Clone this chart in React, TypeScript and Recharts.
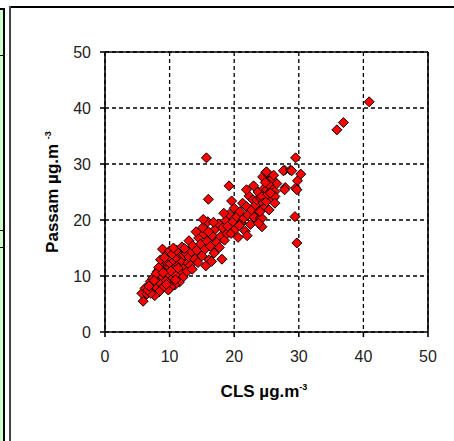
import { ScatterChart, Scatter, XAxis, YAxis, CartesianGrid, ReferenceLine } from 'recharts';

// CLS (x) and Passam (y) readings, paired by index
const cls = [
  5.9, 5.7, 6.2, 6.5, 6.9, 7.2, 7.0, 7.5, 7.8, 7.4, 8.0, 8.2, 8.5, 8.1, 8.7, 8.9, 9.1, 8.8, 9.3, 9.5,
  9.7, 9.4, 9.9, 10.1, 10.3, 10.0, 9.6, 8.9, 10.0, 10.5, 10.7, 10.9, 11.2, 11.0, 11.4, 11.6, 11.8, 12.0, 12.2, 12.4,
  12.6, 12.1, 11.5, 10.8, 10.2, 9.8, 9.0, 8.4, 7.7, 7.1, 6.6, 8.3, 7.9, 8.6, 9.2, 10.4, 11.1, 10.6, 11.9, 12.8,
  13.0, 12.7, 13.2, 13.4, 9.5, 10.9, 12.3, 11.3, 10.2, 9.0, 7.6, 6.8,
  13.0, 13.6, 13.9, 14.2, 14.5, 14.4, 14.8, 15.0, 15.3, 15.1, 15.5, 15.8, 15.9, 16.1, 16.3, 16.5, 16.6, 16.9, 17.1, 17.3,
  17.6, 17.9, 18.1, 18.2, 18.5, 18.7, 14.1, 13.5, 15.6, 16.8, 17.7, 18.9, 15.2, 16.0,
  19.0, 19.2, 19.5, 19.8, 20.0, 20.2, 20.4, 20.6, 20.9, 21.1, 21.3, 21.5, 21.7, 21.9, 22.1, 22.3, 22.5, 22.7, 22.9, 23.1,
  23.3, 23.5, 23.7, 23.9, 24.1, 24.0, 24.3, 24.3, 24.5, 24.6, 24.8, 25.0, 25.0, 25.2, 25.5, 25.7, 26.0, 26.3, 26.3, 26.3,
  26.6, 24.3, 24.0, 23.0, 21.9, 19.2, 16.0, 20.8, 22.0, 18.4, 19.6, 23.8, 25.4,
  24.4, 24.9, 25.0, 25.8, 27.8, 27.6, 28.7, 28.9, 30.3, 29.8, 27.9, 29.5, 29.7, 27.8, 29.4, 29.7, 29.5, 15.7, 35.9, 36.9,
  40.9, 25.3, 26.1, 24.8, 25.6,
];
const passam = [
  5.5, 6.9, 7.8, 6.8, 7.4, 8.3, 9.0, 7.6, 8.8, 9.6, 7.9, 9.3, 10.1, 10.8, 8.6, 9.9, 11.2, 12.0, 10.5, 9.2,
  11.8, 12.6, 10.3, 12.2, 11.0, 13.4, 13.9, 14.8, 14.5, 9.6, 12.7, 11.5, 13.1, 10.2, 12.0, 14.0, 10.9, 12.6, 13.7, 11.6,
  14.0, 9.8, 8.9, 8.4, 8.0, 7.5, 8.0, 7.2, 6.5, 6.9, 7.5, 11.5, 10.4, 12.9, 13.3, 13.9, 14.6, 15.0, 15.2, 12.3,
  13.4, 10.8, 11.9, 14.3, 8.5, 9.3, 14.9, 11.4, 10.9, 10.6, 9.2, 8.2,
  16.3, 15.4, 13.0, 14.6, 16.8, 12.4, 15.7, 13.6, 17.5, 18.6, 14.8, 16.2, 19.7, 12.9, 15.3, 12.6, 17.2, 14.1, 18.4, 16.0,
  19.3, 17.1, 13.0, 18.6, 16.4, 19.9, 17.9, 11.2, 11.8, 19.6, 15.1, 17.6, 20.1, 17.9,
  18.9, 21.0, 17.6, 19.7, 22.1, 18.4, 20.6, 16.9, 21.5, 19.5, 23.0, 20.3, 18.0, 22.4, 20.9, 24.3, 19.2, 21.8, 23.6, 20.5,
  22.7, 23.6, 25.0, 21.6, 23.9, 20.3, 24.2, 18.8, 23.0, 25.6, 22.3, 25.4, 23.3, 24.6, 27.1, 25.9, 23.8, 25.1, 24.2, 23.0,
  26.5, 20.3, 21.5, 26.1, 25.4, 26.1, 23.7, 19.0, 17.2, 21.2, 23.4, 19.4, 21.8,
  27.7, 28.5, 28.6, 27.3, 28.9, 28.8, 28.9, 28.8, 28.2, 27.0, 25.8, 25.7, 25.4, 25.4, 20.6, 15.9, 31.1, 31.1, 36.1, 37.4,
  41.1, 26.4, 28.0, 26.7, 24.8,
];
const ticks = [0, 10, 20, 30, 40, 50];

const data = cls.map((x, i) => ({ cls: x, passam: passam[i] }));

const Diamond = (props: any) => {
  const { cx, cy } = props;
  const r = 5;
  return (
    <polygon
      points={`${cx},${cy - r} ${cx + r},${cy} ${cx},${cy + r} ${cx - r},${cy}`}
      fill="#ff0000"
      stroke="#000"
      strokeWidth={1}
    />
  );
};

const tickStyle = { fill: '#222', fontSize: 16, fontFamily: '"Liberation Sans", Arial, sans-serif' };
const titleStyle: React.CSSProperties = {
  position: 'absolute',
  fontFamily: '"Liberation Sans", Arial, sans-serif',
  fontWeight: 'bold',
  fontSize: 17,
  color: '#000',
  whiteSpace: 'nowrap',
  lineHeight: 1,
};

export default function App() {
  return (
    <div style={{ position: 'absolute', left: 0, top: 0, width: 454, height: 441, background: '#fff', overflow: 'hidden' }}>
      {/* page frame */}
      <div style={{ position: 'absolute', left: 0, top: 8, width: 3, height: 433, background: '#ccffcc' }} />
      <div style={{ position: 'absolute', left: 3, top: 8, width: 2, height: 433, background: '#000' }} />
      <div style={{ position: 'absolute', left: 0, top: 8, width: 5, height: 2, background: '#000' }} />
      <div style={{ position: 'absolute', left: 0, top: 55, width: 5, height: 1, background: '#000' }} />
      <div style={{ position: 'absolute', left: 0, top: 230, width: 5, height: 1, background: '#000' }} />
      <div style={{ position: 'absolute', left: 0, top: 247, width: 5, height: 1, background: '#000' }} />
      <div style={{ position: 'absolute', left: 9, top: 6, width: 445, height: 2, background: '#000' }} />
      <div style={{ position: 'absolute', left: 9, top: 6, width: 2, height: 435, background: '#444' }} />

      <div style={{ position: 'absolute', left: 0, top: 0 }}>
        <ScatterChart width={454} height={441} margin={{ top: 52, right: 26, bottom: 79, left: 75 }}>
          <CartesianGrid strokeDasharray="4 3" stroke="#000" strokeWidth={1.3} />
          <XAxis
            type="number"
            dataKey="cls"
            domain={[0, 50]}
            ticks={ticks}
            height={30}
            tick={tickStyle}
            tickSize={5}
            tickMargin={14}
            stroke="#000"
            strokeWidth={1.6}
          />
          <YAxis
            type="number"
            dataKey="passam"
            domain={[0, 50]}
            ticks={ticks}
            width={30}
            tick={tickStyle}
            tickSize={5}
            tickMargin={9}
            stroke="#000"
            strokeWidth={1.6}
          />
          <ReferenceLine y={50} stroke="#000" strokeWidth={1.6} />
          <ReferenceLine x={50} stroke="#000" strokeWidth={1.6} />
          <Scatter data={data} shape={<Diamond />} isAnimationActive={false} />
        </ScatterChart>
      </div>

      <div style={{ ...titleStyle, left: 264, top: 391, transform: 'translate(-50%, -50%)' }}>
        CLS µg.m<span style={{ fontSize: 9, position: 'relative', top: -7 }}>-3</span>
      </div>
      <div style={{ ...titleStyle, left: 52, top: 192, transform: 'translate(-50%, -50%) rotate(-90deg)' }}>
        Passam µg.m <span style={{ fontSize: 9, position: 'relative', top: -7 }}>-3</span>
      </div>
    </div>
  );
}
